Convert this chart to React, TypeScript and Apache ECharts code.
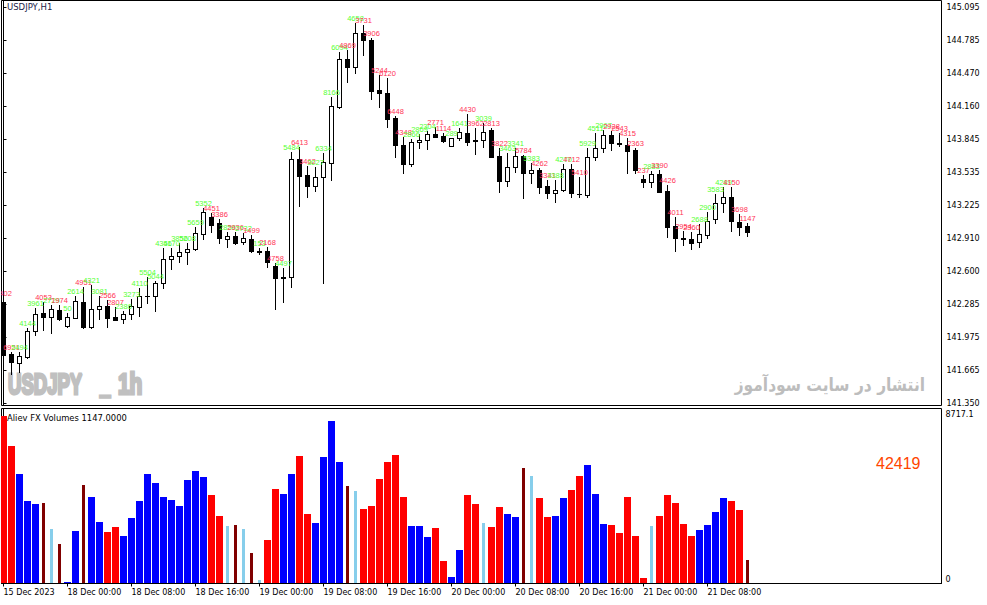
import React, { useEffect, useRef } from 'react';
import * as echarts from 'echarts';

// ---- Data (USDJPY H1, 94 bars, 15 Dec 2023 16:00 .. 21 Dec 2023 13:00) ----
const opens = [
  142.311, 141.814, 141.734, 141.791, 142.034, 142.202, 142.170, 142.233, 142.084, 142.160,
  142.311, 142.075, 142.240, 142.271, 142.164, 142.151, 142.192, 142.264, 142.364, 142.368,
  142.486, 142.713, 142.744, 142.779, 142.807, 142.949, 143.116, 143.053, 142.908, 142.933,
  142.874, 142.905, 142.786, 142.791, 142.652, 142.540, 142.542, 143.659, 143.510, 143.409,
  143.489, 143.621, 144.157, 144.608, 144.529, 144.851, 144.788, 144.315, 144.283, 144.047,
  143.794, 143.612, 143.820, 143.839, 143.895, 143.879, 143.787, 143.858, 143.905, 143.838,
  143.841, 143.936, 143.690, 143.456, 143.583, 143.690, 143.532, 143.558, 143.406, 143.337,
  143.368, 143.564, 143.334, 143.321, 143.678, 143.763, 143.889, 143.814, 143.794, 143.747,
  143.472, 143.444, 143.520, 143.362, 143.028, 142.914, 142.902, 142.874, 142.943, 143.091,
  143.248, 143.305, 143.068, 143.028,
];
const closes = [
  141.807, 141.738, 141.798, 142.034, 142.192, 142.170, 142.242, 142.148, 142.164, 142.318,
  142.075, 142.240, 142.271, 142.160, 142.141, 142.192, 142.274, 142.368, 142.369, 142.486,
  142.713, 142.744, 142.779, 142.807, 142.961, 143.163, 143.037, 142.911, 142.933, 142.870,
  142.917, 142.794, 142.791, 142.684, 142.533, 142.544, 143.659, 143.504, 143.409, 143.489,
  143.630, 144.163, 144.608, 144.529, 144.851, 144.788, 144.308, 144.283, 144.037, 143.794,
  143.612, 143.825, 143.841, 143.895, 143.873, 143.835, 143.858, 143.914, 143.825, 143.832,
  143.920, 143.683, 143.456, 143.583, 143.690, 143.532, 143.558, 143.400, 143.337, 143.368,
  143.564, 143.337, 143.328, 143.678, 143.763, 143.889, 143.810, 143.808, 143.740, 143.558,
  143.447, 143.520, 143.352, 143.015, 142.911, 142.909, 142.870, 142.949, 143.078, 143.248,
  143.305, 143.078, 143.015, 142.968,
];
const lows = [
  141.665, 141.627, 141.649, 141.776, 141.996, 142.044, 142.018, 142.138, 142.075, 142.153,
  142.060, 142.067, 142.145, 142.069, 142.134, 142.113, 142.145, 142.176, 142.302, 142.226,
  142.438, 142.618, 142.690, 142.665, 142.801, 142.902, 142.974, 142.864, 142.832, 142.857,
  142.857, 142.779, 142.763, 142.637, 142.240, 142.311, 142.448, 143.220, 143.305, 143.362,
  142.486, 143.463, 144.141, 144.393, 144.478, 144.646, 144.227, 144.151, 143.962, 143.678,
  143.526, 143.598, 143.769, 143.753, 143.867, 143.825, 143.783, 143.841, 143.794, 143.706,
  143.778, 143.678, 143.352, 143.409, 143.542, 143.296, 143.432, 143.337, 143.290, 143.252,
  143.362, 143.305, 143.299, 143.305, 143.652, 143.731, 143.747, 143.787, 143.526, 143.532,
  143.394, 143.394, 143.345, 142.921, 142.794, 142.848, 142.807, 142.826, 142.917, 143.053,
  143.163, 142.983, 142.943, 142.936,
];
const highs = [
  142.346, 141.838, 141.838, 142.060, 142.255, 142.306, 142.280, 142.280, 142.207, 142.365,
  142.453, 142.469, 142.365, 142.328, 142.261, 142.223, 142.337, 142.438, 142.542, 142.507,
  142.817, 142.817, 142.867, 142.870, 143.018, 143.195, 143.154, 143.091, 142.974, 142.974,
  142.959, 142.943, 142.817, 142.832, 142.675, 142.627, 143.731, 143.778, 143.595, 143.583,
  143.716, 144.251, 144.677, 144.693, 144.946, 144.930, 144.804, 144.456, 144.425, 144.069,
  143.873, 143.848, 143.898, 143.927, 143.967, 143.910, 143.863, 143.952, 144.087, 143.952,
  143.999, 143.952, 143.763, 143.721, 143.763, 143.700, 143.621, 143.574, 143.463, 143.463,
  143.612, 143.612, 143.489, 143.763, 143.905, 143.936, 143.929, 143.905, 143.858, 143.763,
  143.510, 143.551, 143.558, 143.416, 143.110, 142.983, 142.974, 143.047, 143.163, 143.331,
  143.394, 143.394, 143.138, 143.053,
];
const volumes = [
  8402, 6921, 5494, 4144, 3961, 4053, 2729, 1974, 50, 2614,
  4951, 4321, 3081, 2566, 2807, 2386, 3273, 4110, 5504, 5044,
  4356, 4170, 3856, 5208, 5659, 5352, 4451, 3386, 2856, 2936,
  2732, 1499, 153, 2168, 4758, 4497, 5484, 6413, 3462, 3027,
  6334, 8166, 6094, 4869, 4658, 3731, 3906, 5244, 6120, 6448,
  4348, 2866, 2869, 2304, 2771, 1114, 289, 1641, 4430, 3962,
  3039, 2813, 3822, 3463, 3341, 5784, 5383, 4262, 3341, 3388,
  4270, 4712, 5410, 5929, 4511, 2967, 2928, 2543, 4315, 2363,
  237, 2883, 3390, 4426, 4011, 2954, 2360, 2688, 2900, 3583,
  4289, 4150, 3698, 1147,
];
// R = red (bear), B = blue (bull), M = maroon thin (bear), S = sky blue thin (bull)
const volTypes = [
  'R', 'R', 'B', 'B', 'B', 'M', 'S', 'M', 'B', 'B',
  'M', 'B', 'B', 'R', 'R', 'B', 'B', 'B', 'B', 'B',
  'B', 'B', 'B', 'B', 'B', 'B', 'R', 'R', 'S', 'M',
  'S', 'M', 'S', 'R', 'R', 'B', 'B', 'R', 'R', 'B',
  'B', 'B', 'B', 'M', 'S', 'R', 'R', 'R', 'R', 'R',
  'R', 'B', 'B', 'B', 'R', 'R', 'B', 'B', 'R', 'R',
  'S', 'R', 'R', 'B', 'B', 'M', 'S', 'R', 'R', 'B',
  'B', 'R', 'R', 'B', 'B', 'B', 'R', 'R', 'R', 'R',
  'R', 'S', 'R', 'R', 'R', 'R', 'R', 'B', 'B', 'B',
  'B', 'R', 'R', 'M',
];
const timeTickIdx = [0, 8, 16, 24, 32, 40, 48, 56, 64, 72, 80, 88];
const timeLabels = [
  '15 Dec 2023', '18 Dec 00:00', '18 Dec 08:00', '18 Dec 16:00', '19 Dec 00:00', '19 Dec 08:00',
  '19 Dec 16:00', '20 Dec 00:00', '20 Dec 08:00', '20 Dec 16:00', '21 Dec 00:00', '21 Dec 08:00',
];
const priceTicks = [
  145.095, 144.785, 144.47, 144.16, 143.845, 143.535, 143.225, 142.91, 142.6, 142.285, 141.975, 141.665, 141.35,
];
const volumeTicks = [0, 8717.1];

const TYPE_CODES = ['R', 'B', 'M', 'S'];
const TYPE_COLORS = ['#ff0000', '#0000ff', '#800000', '#87ceeb'];

export default function App() {
  const ref = useRef<HTMLDivElement>(null);

  useEffect(() => {
    const chart = echarts.init(ref.current!, null, { renderer: 'svg' });

    const candleData = opens.map((o, i) => [i, o, closes[i], lows[i], highs[i]]);
    const labelData = highs.map((h, i) => [i, h, volumes[i], TYPE_CODES.indexOf(volTypes[i])]);
    const volData = volumes.map((v, i) => [i, v, TYPE_CODES.indexOf(volTypes[i])]);

    const axisFont = { fontFamily: 'DejaVu Sans', fontSize: 8, color: '#000' };
    const wm = {
      fill: '#c0c0c0', stroke: '#c0c0c0', lineWidth: 3, fontSize: 29, fontWeight: 'bold',
      fontFamily: 'Liberation Sans', align: 'left', verticalAlign: 'middle',
    };

    const option: any = {
      animation: false,
      backgroundColor: '#ffffff',
      grid: [
        { left: 1.5, top: 0.5, width: 940, height: 405, show: true, borderColor: '#000', borderWidth: 1, backgroundColor: 'transparent' },
        { left: 1.5, top: 408.5, width: 940, height: 175, show: true, borderColor: '#000', borderWidth: 1, backgroundColor: 'transparent' },
      ],
      xAxis: [
        { type: 'value', gridIndex: 0, min: -0.25, max: 117.25, show: false },
        {
          type: 'value', gridIndex: 1, min: -0.25, max: 117.25, position: 'bottom',
          axisLine: { show: true, onZero: false, lineStyle: { color: '#000', width: 1 } },
          axisTick: { show: true, customValues: timeTickIdx, length: 3, lineStyle: { color: '#000' } },
          axisLabel: {
            show: true, customValues: timeTickIdx, align: 'left', margin: 5, ...axisFont,
            formatter: (v: number) => timeLabels[timeTickIdx.indexOf(Math.round(v))] ?? '',
          },
          splitLine: { show: false },
        },
      ],
      yAxis: [
        {
          type: 'value', gridIndex: 0, position: 'right', min: 141.3292, max: 145.1612,
          axisLine: { show: true, lineStyle: { color: '#000', width: 1 } },
          axisTick: { show: true, customValues: priceTicks, length: 3, lineStyle: { color: '#000' } },
          axisLabel: { show: true, customValues: priceTicks, margin: 5, ...axisFont, formatter: (v: number) => v.toFixed(3) },
          splitLine: { show: false },
        },
        {
          type: 'value', gridIndex: 1, position: 'right', min: -25, max: 8795,
          axisLine: { show: true, lineStyle: { color: '#000', width: 1 } },
          axisTick: { show: true, customValues: [volumeTicks[0]], length: 3, lineStyle: { color: '#000' } },
          axisLabel: {
            show: true, customValues: volumeTicks, margin: 4, ...axisFont,
            verticalAlignMinLabel: 'bottom', verticalAlignMaxLabel: 'top',
            formatter: (v: number) => (v === 0 ? '0' : v.toFixed(1)),
          },
          splitLine: { show: false },
        },
      ],
      graphic: [
        { type: 'text', x: 7, y: 7, z: 0, style: { text: 'USDJPY,H1', fill: '#1c1c48', fontSize: 8.5, fontFamily: 'DejaVu Sans', align: 'left', verticalAlign: 'middle' } },
        { type: 'text', x: 8, y: 384, scaleX: 0.64, z: 0, style: { ...wm, text: 'USDJPY' } },
        { type: 'text', x: 100, y: 384, scaleX: 0.64, z: 0, style: { ...wm, text: '_' } },
        { type: 'text', x: 118, y: 384, scaleX: 0.72, z: 0, style: { ...wm, text: '1h' } },
        { type: 'text', x: 925, y: 385, scaleX: 0.86, z: 0, style: { text: 'انتشار در سایت سودآموز', fill: '#bdbdbd', fontSize: 18, fontWeight: 'bold', fontFamily: 'DejaVu Sans', align: 'right', verticalAlign: 'middle' } },
        { type: 'text', x: 7, y: 417.5, z: 10, style: { text: `Aliev FX Volumes ${volumes[volumes.length - 1].toFixed(4)}`, fill: '#000', fontSize: 8.4, fontFamily: 'DejaVu Sans', align: 'left', verticalAlign: 'middle' } },
        { type: 'text', x: 876, y: 463.5, z: 10, style: { text: '42419', fill: '#ff4500', fontSize: 16, fontFamily: 'Liberation Sans', align: 'left', verticalAlign: 'middle' } },
      ],
      series: [
        {
          type: 'custom', name: 'candles', xAxisIndex: 0, yAxisIndex: 0, clip: true,
          encode: { x: 0, y: [1, 2, 3, 4] },
          data: candleData,
          renderItem: (params: any, api: any) => {
            const k = api.value(0);
            const o = api.value(1), c = api.value(2), l = api.value(3), h = api.value(4);
            const x = api.coord([k, o])[0];
            const yo = Math.round(api.coord([k, o])[1]);
            const yc = Math.round(api.coord([k, c])[1]);
            const yl = Math.round(api.coord([k, l])[1]);
            const yh = Math.round(api.coord([k, h])[1]);
            const top = Math.min(yo, yc), bot = Math.max(yo, yc);
            const children: any[] = [
              { type: 'rect', shape: { x: x - 0.5, y: yh, width: 1, height: yl - yh + 1 }, style: { fill: '#000' } },
              { type: 'rect', shape: { x: x - 2.5, y: top, width: 5, height: bot - top + 1 }, style: { fill: '#000' } },
            ];
            if (c > o && bot - top >= 2) {
              children.push({ type: 'rect', shape: { x: x - 1.5, y: top + 1, width: 3, height: bot - top - 1 }, style: { fill: '#fff' } });
            }
            return { type: 'group', children };
          },
        },
        {
          type: 'custom', name: 'volumeLabels', xAxisIndex: 0, yAxisIndex: 0, clip: true, z: 3,
          encode: { x: 0, y: 1 },
          data: labelData,
          renderItem: (params: any, api: any) => {
            const k = api.value(0), h = api.value(1), v = api.value(2), t = api.value(3);
            const p = api.coord([k, h]);
            const bull = t === 1 || t === 3;
            return {
              type: 'text', x: p[0], y: p[1] - 0.5,
              style: { text: String(v), fill: bull ? '#55ff33' : '#ff3355', fontSize: 7.5, fontFamily: 'Liberation Sans', align: 'center', verticalAlign: 'bottom' },
            };
          },
        },
        {
          type: 'custom', name: 'volumes', xAxisIndex: 1, yAxisIndex: 1, clip: true,
          encode: { x: 0, y: 1 },
          data: volData,
          renderItem: (params: any, api: any) => {
            const k = api.value(0), v = api.value(1), t = api.value(2);
            const pTop = api.coord([k, v]);
            const pBase = api.coord([k, 0]);
            const thin = t === 2 || t === 3;
            const w = thin ? 3 : 7;
            const yTop = Math.round(pTop[1]);
            const yBase = Math.round(pBase[1]);
            return {
              type: 'rect',
              shape: { x: pTop[0] - w / 2, y: yTop, width: w, height: Math.max(yBase - yTop, 1) },
              style: { fill: TYPE_COLORS[t] },
            };
          },
        },
      ],
    };

    chart.setOption(option);
    return () => chart.dispose();
  }, []);

  return (
    <div
      ref={ref}
      style={{ position: 'fixed', left: 0, top: 0, width: 987, height: 605, background: '#fff' }}
    />
  );
}
